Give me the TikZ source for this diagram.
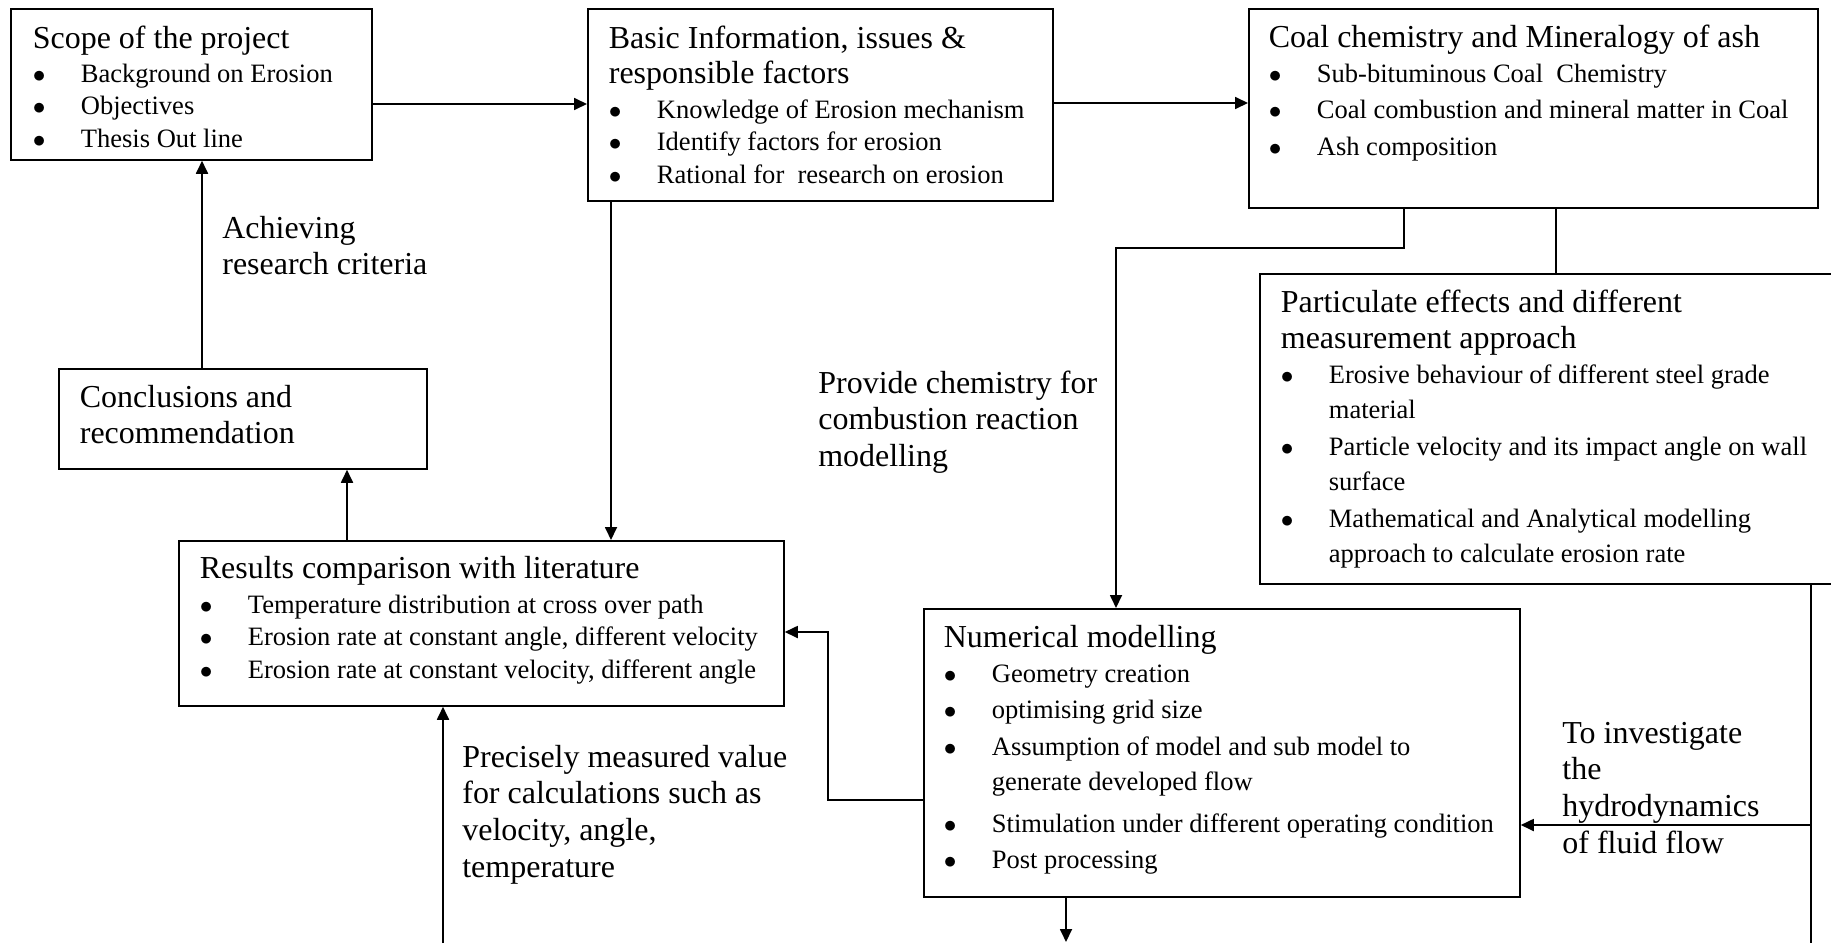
\documentclass[tikz,border=0pt]{standalone}
\usepackage{fontspec}
\setmainfont{Liberation Serif}
\usetikzlibrary{arrows.meta}

\newdimen\pu \pu=0.02cm
\newcommand{\ttlfont}{\fontsize{18.2pt}{21pt}\selectfont}
\newcommand{\itmfont}{\fontsize{15.1pt}{18pt}\selectfont}
% box lines: distance to the line above, then the text
\newcommand{\ttlline}[2]{\par\rule[-8\pu]{0pt}{#1\pu}{\ttlfont\mbox{#2}}}
\newcommand{\bulline}[2]{\par\rule[-8\pu]{0pt}{#1\pu}{\itmfont\makebox[48\pu][l]{$\bullet$}\mbox{#2}}}
\newcommand{\contline}[2]{\par\rule[-8\pu]{0pt}{#1\pu}{\itmfont\hspace*{48\pu}\mbox{#2}}}
\newcommand{\boxtext}[4]{\parbox[c][#2\pu][t]{#1\pu}{\offinterlineskip\parskip=0pt\raggedright\leftskip=#3\pu\relax #4}}
\newcommand{\stack}[1]{\begin{tabular}[t]{@{}l@{}}#1\end{tabular}}

\tikzstyle{box}=[draw, line width=1pt, inner sep=0pt, anchor=north west]
\tikzstyle{lbl}=[inner sep=0pt, anchor=base west, font=\ttlfont]
\tikzstyle{wire}=[line width=1pt]
\tikzstyle{arr}=[line width=1pt, -{Triangle[length=0.26cm, width=0.24cm]}]

\begin{document}
\begin{tikzpicture}[x=0.02cm, y=-0.02cm]
    \useasboundingbox (0,0) rectangle (1831,943);

    \node [box] (scope) at (10,8) {\boxtext{361}{151}{22}{%
        \ttlline{48}{Scope of the project}%
        \bulline{34}{Background on Erosion}%
        \bulline{32}{Objectives}%
        \bulline{33}{Thesis Out line}}};
    \node [box] (basic) at (587,8) {\boxtext{465}{192}{21}{%
        \ttlline{48}{Basic Information, issues \&}%
        \ttlline{35}{responsible factors}%
        \bulline{35}{Knowledge of Erosion mechanism}%
        \bulline{32}{Identify factors for erosion}%
        \bulline{33}{Rational for\ \ research on erosion}}};
    \node [box] (coal) at (1248,8) {\boxtext{569}{199}{20}{%
        \ttlline{47}{Coal chemistry and Mineralogy of ash}%
        \bulline{35}{Sub-bituminous Coal\ \ Chemistry}%
        \bulline{36}{Coal combustion and mineral matter in Coal}%
        \bulline{37}{Ash composition}}};
    \node [box] (part) at (1259,273) {\boxtext{600}{310}{21}{%
        \ttlline{47}{Particulate effects and different}%
        \ttlline{36}{measurement approach}%
        \bulline{35}{Erosive behaviour of different steel grade}%
        \contline{35}{material}%
        \bulline{37}{Particle velocity and its impact angle on wall}%
        \contline{35}{surface}%
        \bulline{37}{Mathematical and Analytical modelling}%
        \contline{35}{approach to calculate erosion rate}}};
    \node [box] (concl) at (58,368) {\boxtext{368}{100}{21}{%
        \ttlline{47}{Conclusions and}%
        \ttlline{36}{recommendation}}};
    \node [box] (results) at (178,540) {\boxtext{605}{165}{21}{%
        \ttlline{46}{Results comparison with literature}%
        \bulline{35}{Temperature distribution at cross over path}%
        \bulline{32}{Erosion rate at constant angle, different velocity}%
        \bulline{33}{Erosion rate at constant velocity, different angle}}};
    \node [box] (numer) at (923,608) {\boxtext{596}{288}{20}{%
        \ttlline{47}{Numerical modelling}%
        \bulline{35}{Geometry creation}%
        \bulline{36}{optimising grid size}%
        \bulline{37}{Assumption of model and sub model to}%
        \contline{35}{generate developed flow}%
        \bulline{42}{Stimulation under different operating condition}%
        \bulline{36}{Post processing}}};

    \node [lbl] (achieve) at (222,238) {\stack{Achieving\\research criteria}};
    \node [lbl] (chem) at (818,393) {\stack{Provide chemistry for\\combustion reaction\\modelling}};
    \node [lbl] (measured) at (462,767) {\stack{Precisely measured value\\for calculations such as\\velocity, angle,\\temperature}};
    \node [lbl] (investigate) at (1562,743) {\stack{To investigate\\the\\hydrodynamics\\of fluid flow}};

    \coordinate (hydro) at (1811,825);
    \coordinate (measure) at (443,943);
    \coordinate (outflow) at (1066,942);

    \path (scope.east |- 0,104) edge[arr] (basic.west |- 0,104);
    \path (basic.east |- 0,103) edge[arr] (coal.west |- 0,103);
    \path (basic.south -| 611,0) edge[arr] (results.north -| 611,0);
    \path (results.north -| 347,0) edge[arr] (concl.south -| 347,0);
    \path (concl.north -| 202,0) edge[arr] (scope.south -| 202,0);
    \draw[arr] (coal.south -| 1404,0) |- (1116,248) -- (numer.north -| 1116,0);
    \draw[wire] (coal.south -| 1556,0) -- (part.north -| 1556,0);
    \draw[wire] (part.south -| hydro) -- (hydro |- measure);
    \path (hydro) edge[arr] (numer.east |- hydro);
    \draw[arr] (numer.west |- 0,800) -| (828,632) -- (results.east |- 0,632);
    \path (numer.south -| outflow) edge[arr] (outflow);
    \path (measure) edge[arr] (results.south -| measure);
\end{tikzpicture}
\end{document}
